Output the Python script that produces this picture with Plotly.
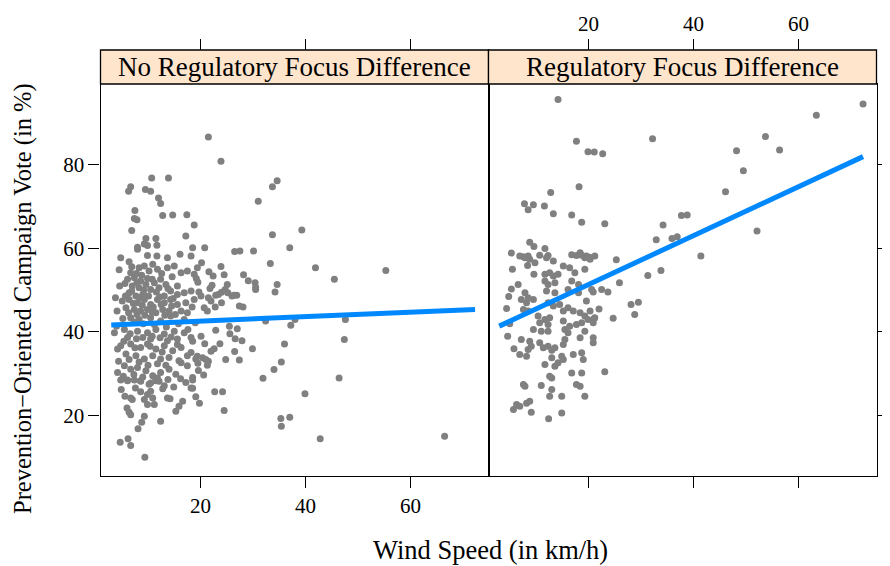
import plotly.graph_objects as go

# ---------------- data ----------------
panel_titles = ["No Regulatory Focus Difference", "Regulatory Focus Difference"]
x_ticks = [20, 40, 60]
y_ticks = [20, 40, 60, 80]

left_wind = [
    10.7, 13.9, 6.7, 6.3, 9.5, 10.5, 12.0, 12.4, 7.5, 7.4, 7.9, 12.8, 14.7, 17.4, 18.8, 6.9, 17.2, 9.6, 11.5, 9.3,
    9.9, 11.7, 8.0, 18.5, 4.8, 9.9, 11.7, 13.7, 16.1,
    21.5, 23.9, 34.6, 33.7, 31.0, 33.7, 20.8, 26.5, 27.5, 30.1, 37.0, 23.9, 19.4, 33.3, 24.5, 28.2, 29.1, 30.4, 30.5,
    34.6, 34.2, 19.5, 22.2, 21.8, 25.1, 24.7, 26.4, 26.9, 22.9, 24.0, 19.7,
    20.1, 20.7, 21.3, 22.0, 22.8, 24.0, 27.4, 28.1, 25.5, 27.0, 32.4, 22.9, 20.1, 25.6, 26.6, 27.9, 23.7, 22.6, 22.0,
    20.8, 18.5, 26.5, 29.9, 36.0, 19.4, 20.4, 21.0, 21.5, 21.3, 19.5, 24.8, 27.4, 35.4, 34.0, 31.9, 20.6, 18.5, 18.5,
    22.7, 24.2, 19.1, 19.8, 24.5, 21.5, 23.4, 25.2, 26.0, 30.5,
    39.3, 41.9, 45.5, 55.3, 47.6, 47.4, 37.2, 38.0, 46.4, 39.9, 35.3, 37.0, 35.4, 42.8, 66.5,
    8.6, 7.0, 9.9, 11.2, 10.9, 13.7, 14.2, 16.6, 15.9, 15.3, 18.2, 6.0, 6.4, 6.7, 12.4, 9.3, 8.8, 8.1, 4.7, 6.2, 6.7, 9.4,
    4.8, 6.1, 7.4, 8.6, 10.5, 11.5, 12.1, 6.7, 9.9, 10.5, 9.3,
    8.0, 18.2, 6.4,
    4.5, 6.7, 8.3, 9.3, 10.9, 11.8, 13.7, 15.0, 16.3, 17.5, 18.8,
    6.1, 7.4, 8.6, 9.9, 11.2, 12.4, 7.0, 8.3, 9.6, 10.5, 12.1, 13.4, 14.3, 15.6, 16.9, 18.2, 6.4, 7.7, 9.0, 13.1, 15.6,
    5.1, 6.4, 8.0, 9.3, 10.5, 11.8, 13.1, 14.3, 15.6, 17.2, 18.8, 5.8, 7.4, 8.6, 9.9, 11.5, 12.8, 14.0, 16.3, 17.5, 4.1,
    6.7, 8.3, 10.5, 12.4, 14.3, 16.9, 3.6,
    5.5, 8.0, 9.9, 11.5, 13.1, 15.0, 16.9, 6.1, 9.0, 10.5, 13.7, 15.6, 18.2, 4.2,
    4.8, 6.7, 8.6, 9.9, 11.5, 13.1, 14.7, 16.3, 18.2, 5.8, 7.7, 9.3, 10.9, 12.4, 14.0, 15.9, 17.5, 19.1,
    4.2, 5.5, 6.7, 8.0, 9.6, 10.9, 12.4, 14.0, 15.3, 17.5, 6.1, 8.6, 10.2, 11.5, 13.1, 17.2, 18.5,
    6.9, 7.8, 8.8, 10.2, 12.6, 14.6, 5.6, 7.9, 9.2, 10.8, 11.6, 13.8, 6.9, 8.4, 10.1, 12.2, 14.8, 5.7, 7.2, 8.9,
    11.0, 12.5, 14.5, 6.3, 7.9, 9.4, 10.8, 13.2, 15.2, 5.2, 7.4, 9.1, 11.2, 13.5, 15.8, 6.6, 7.8, 10.8, 12.3, 14.4,
    17.6, 5.4, 7.5, 10.4, 12.7, 15.6, 6.4, 8.3, 10.0, 11.8, 13.4, 16.3, 5.3, 7.3, 9.0, 11.8, 13.8, 16.2, 7.6, 12.8,
    14.9, 19.6, 19.0, 18.4, 19.2, 20.2, 21.6, 22.4, 4.6, 3.8, 4.0, 4.4, 4.9, 5.6,
]
left_vote = [
    76.9, 76.9, 74.8, 73.7, 74.1, 73.7, 72.1, 70.8, 69.1, 67.2, 66.9, 67.9, 68.0, 68.1, 65.6, 64.3, 63.0, 62.4, 62.4, 61.1,
    60.7, 60.8, 60.3, 60.2, 57.8, 58.3, 58.2, 57.8, 58.6,
    86.7, 80.9, 76.2, 74.8, 71.3, 63.3, 60.2, 59.3, 59.4, 59.4, 60.2, 55.7, 55.4, 56.4, 53.7, 53.7, 52.3, 51.8, 50.7,
    51.4, 49.6, 51.9, 51.2, 50.4, 51.4, 50.2, 48.8, 48.8, 48.8, 49.5, 49.6,
    48.6, 45.8, 45.0, 47.4, 46.0, 47.0, 46.2, 46.0, 41.4, 40.8, 42.6, 40.4, 39.0, 39.6, 38.4, 37.9, 37.2, 36.0, 35.4,
    37.2, 37.8, 35.3, 36.0, 37.1, 34.2, 33.8, 33.4, 33.0, 32.0, 32.5, 33.4, 33.3, 32.8, 31.0, 28.9, 29.7, 28.5, 26.5,
    25.7, 25.7, 24.5, 22.9, 21.2, 48.2, 49.0, 49.4, 48.6, 50.2,
    64.4, 55.4, 52.6, 54.7, 43.0, 38.2, 41.6, 43.0, 29.0, 25.2, 19.3, 19.6, 17.4, 14.4, 15.0,
    25.7, 23.8, 22.6, 22.6, 24.2, 24.2, 24.0, 23.4, 22.2, 21.0, 26.6, 21.8, 20.8, 20.2, 18.6, 19.8, 18.4, 16.8, 13.6, 14.4, 12.8, 10.0,
    28.5, 28.5, 28.5, 28.2, 27.8, 28.5, 28.2, 24.2, 25.0, 25.8, 23.8,
    59.8, 58.2, 56.8,
    54.9, 54.2, 55.4, 55.8, 56.2, 55.0, 55.4, 55.8, 54.2, 54.6, 53.8,
    52.6, 53.0, 52.2, 52.8, 51.8, 52.6, 51.0, 50.6, 51.4, 50.2, 50.6, 51.4, 49.8, 51.0, 49.4, 49.8, 49.4, 48.6, 49.0, 48.6, 49.0,
    47.4, 47.8, 47.0, 47.8, 46.6, 47.8, 47.0, 47.8, 46.6, 47.0, 47.8, 45.8, 45.4, 45.0, 45.4, 44.6, 45.4, 45.0, 45.0, 44.6, 45.0,
    43.4, 43.0, 43.4, 42.6, 43.8, 43.0, 39.8,
    40.6, 40.2, 39.8, 40.6, 39.5, 40.2, 39.8, 38.7, 38.7, 38.3, 37.9, 38.3, 38.7, 35.9,
    36.7, 37.1, 36.3, 37.1, 35.9, 36.7, 35.5, 36.3, 35.1, 34.7, 34.3, 33.5, 34.3, 33.5, 33.9, 33.1, 34.3, 33.5,
    30.3, 31.9, 31.1, 31.5, 30.7, 29.5, 30.3, 31.1, 29.9, 31.9, 28.3, 28.3, 27.5, 28.3, 27.1, 27.9, 29.1,
    55.6, 54.0, 53.6, 54.6, 54.0, 53.2, 51.6, 51.8, 50.0, 52.6, 49.6, 50.4, 49.8, 48.2, 48.6, 48.4, 48.0, 48.6, 46.8, 46.4,
    46.0, 46.6, 46.2, 44.6, 44.2, 44.0, 44.8, 44.0, 44.2, 43.2, 42.4, 42.0, 41.8, 41.2, 42.0, 39.6, 38.4, 39.0, 38.6, 38.8,
    40.6, 37.8, 36.2, 36.6, 35.2, 37.0, 33.4, 32.8, 32.0, 32.4, 32.0, 32.6, 29.4, 29.8, 29.2, 29.0, 28.6, 28.8, 26.6, 26.4,
    26.8, 30.8, 42.2, 46.0, 52.8, 56.6, 54.4, 53.4, 51.0, 48.2, 41.4, 33.0, 26.2, 24.6,
]

right_wind = [
    14.2, 17.7, 19.9, 21.1, 22.7, 32.2, 12.8, 18.2, 7.8, 8.5, 9.5, 11.6, 13.3, 16.8, 18.7, 8.8, 9.6, 11.7, 5.3, 6.9,
    7.6, 8.5, 10.7, 12.3, 16.8, 17.7, 18.7, 19.6, 20.2,
    23.1, 37.7, 38.8, 34.2, 32.9, 35.9, 36.9, 41.4, 25.3, 33.8, 31.3, 25.9, 20.9, 22.5, 23.7, 28.1, 29.5, 28.8, 22.0,
    21.1, 24.7, 20.9, 20.9, 23.1,
    72.3, 63.4, 53.7, 48.2, 56.4, 49.5, 46.1, 52.1,
    7.9, 8.8, 9.8, 5.5, 8.4, 9.6, 12.0, 13.3, 18.4, 19.3, 20.3, 21.2,
    15.2, 16.4, 17.4, 19.3, 11.7, 12.6, 13.3, 14.2, 11.7, 12.3, 13.6, 16.8, 18.1, 16.1, 18.1, 20.6, 5.3, 6.6, 7.9, 8.5,
    7.2, 8.2, 9.5, 12.0, 13.6, 12.3, 13.3, 14.5, 15.2, 19.6, 16.1, 17.1, 18.4, 19.3, 20.3, 21.2, 7.6, 8.5, 10.4, 11.7,
    12.6, 10.7, 12.3, 15.2, 16.4, 17.7, 18.7, 19.9, 20.9, 9.5, 11.0, 12.3, 15.5, 16.1, 18.4, 19.3, 7.2, 8.8, 9.1, 10.7,
    11.4, 12.3, 13.6, 13.0, 15.5, 15.2, 6.9, 8.2, 8.5, 13.0, 14.9, 15.2, 14.2, 13.6, 17.1, 18.7, 19.0, 11.7, 12.6, 13.0,
    16.8, 18.7, 7.9, 7.6, 11.0, 13.0, 12.6, 14.9, 17.7, 18.4, 19.3, 8.8, 8.2, 6.9, 5.7, 9.1, 14.9, 12.4,
    4.8, 4.4, 5.0, 4.6, 5.8, 6.3,
]
right_vote = [
    95.7, 85.7, 83.2, 83.1, 82.7, 86.3, 73.4, 74.8, 70.7, 69.3, 70.5, 70.2, 68.3, 68.0, 66.3, 61.5, 60.5, 60.0, 58.9, 58.2,
    58.0, 58.2, 58.4, 58.3, 58.5, 58.3, 58.4, 58.2, 57.9,
    65.9, 67.9, 68.0, 65.6, 62.1, 62.4, 62.8, 58.2, 57.3, 54.7, 53.5, 51.8, 49.6, 50.2, 49.6, 46.6, 47.1, 44.2, 45.5,
    43.3, 43.3, 38.6, 37.4, 30.5,
    94.6, 91.9, 86.8, 83.4, 83.6, 78.6, 73.6, 64.2,
    57.8, 57.4, 56.6, 55.0, 55.9, 53.8, 57.8, 57.0, 59.0, 57.8, 57.4, 58.2,
    55.8, 55.4, 54.2, 55.0, 53.8, 54.2, 53.4, 53.8, 52.2, 51.4, 51.8, 52.2, 51.4, 50.2, 49.4, 50.2, 50.3, 51.4, 49.4, 48.2,
    47.8, 47.0, 47.8, 49.8, 49.4, 47.0, 46.2, 46.6, 45.0, 47.4, 45.8, 45.0, 44.6, 43.8, 45.0, 43.4, 45.4, 45.0, 43.8, 43.0,
    43.4, 42.2, 41.8, 42.6, 41.4, 41.8, 42.2, 43.0, 42.2, 40.6, 40.2, 40.2, 40.6, 39.8, 38.6, 40.2, 38.2, 37.8, 36.6, 37.4,
    36.2, 36.6, 36.2, 35.6, 38.2, 37.0, 34.6, 34.2, 35.8, 33.8, 34.2, 33.4, 32.6, 31.8, 34.6, 35.0, 33.4, 32.2, 29.4, 29.0,
    30.2, 30.2, 27.0, 27.4, 27.2, 26.2, 24.6, 24.6, 27.4, 27.0, 24.6, 23.4, 22.9, 22.2, 21.4, 20.8, 20.6, 19.2,
    48.5, 45.6, 42.0, 39.0, 36.0, 22.6,
]

# fitted regression lines (end points)
fit_wind = [3.0, 72.3]
left_fit_vote = [41.7, 45.4]
right_fit_vote = [41.4, 82.0]

x_title = "Wind Speed (in km/h)"
y_title = "Prevention\u2212Oriented Campaign Vote (in %)"

# ---------------- layout constants ----------------
W, H = 890, 566
OFF = 8  # page body margin in the browser
FONT = "Liberation Serif, Times New Roman, serif"
px_x = lambda p: (p - OFF) / W
px_y = lambda p: 1 - (p - OFF) / H
L0, L1, R1 = px_x(100.5), px_x(488.5), px_x(876.5)
B, T = px_y(476), px_y(84)
STRIP_TOP = px_y(50)
xr = [0.95, 74.86]
yr = [5.5, 99.4]
PT_COL = "#808080"
LINE_COL = "#0088FF"

fig = go.Figure()
fig.add_trace(go.Scatter(x=left_wind, y=left_vote, mode="markers", xaxis="x", yaxis="y",
                         marker=dict(color=PT_COL, size=7, line=dict(width=0)), showlegend=False))
fig.add_trace(go.Scatter(x=fit_wind, y=left_fit_vote, mode="lines", xaxis="x", yaxis="y",
                         line=dict(color=LINE_COL, width=5), showlegend=False))
fig.add_trace(go.Scatter(x=right_wind, y=right_vote, mode="markers", xaxis="x2", yaxis="y2",
                         marker=dict(color=PT_COL, size=7, line=dict(width=0)), showlegend=False))
fig.add_trace(go.Scatter(x=fit_wind, y=right_fit_vote, mode="lines", xaxis="x2", yaxis="y2",
                         line=dict(color=LINE_COL, width=5), showlegend=False))
# empty traces so the top tick axes are drawn
fig.add_trace(go.Scatter(x=[None], y=[None], xaxis="x3", yaxis="y", showlegend=False, hoverinfo="skip"))
fig.add_trace(go.Scatter(x=[None], y=[None], xaxis="x4", yaxis="y2", showlegend=False, hoverinfo="skip"))

tickfont = dict(family=FONT, size=21, color="black")
common_x = dict(range=xr, tickvals=x_ticks, ticks="outside", ticklen=11, tickwidth=1.3, tickcolor="black",
                showgrid=False, zeroline=False, tickfont=tickfont, fixedrange=True, automargin=False)
common_y = dict(range=yr, domain=[B, T], tickvals=y_ticks, ticks="outside", ticklen=11, tickwidth=1.3,
                tickcolor="black", showgrid=False, zeroline=False, tickfont=tickfont, fixedrange=True,
                showline=True, linecolor="black", linewidth=1.3, mirror=True, automargin=False)

fig.update_layout(
    width=W, height=H, margin=dict(l=0, r=0, t=0, b=0, autoexpand=False),
    paper_bgcolor="white", plot_bgcolor="white", showlegend=False,
    font=dict(family=FONT, color="black"),
    xaxis=dict(domain=[L0, L1], anchor="y", showline=True, linecolor="black", linewidth=1.3, mirror=True, **common_x),
    yaxis=dict(anchor="x", side="left", **common_y),
    xaxis2=dict(domain=[L1, R1], anchor="y2", showline=True, linecolor="black", linewidth=1.3, mirror=True,
                showticklabels=False, **common_x),
    yaxis2=dict(anchor="x2", side="right", showticklabels=False, **common_y),
    xaxis3=dict(overlaying="x", anchor="free", position=STRIP_TOP, side="top", showline=False,
                showticklabels=False, **common_x),
    xaxis4=dict(overlaying="x2", anchor="free", position=STRIP_TOP, side="top", showline=False,
                showticklabels=True, **common_x),
)

# strips
for (x0, x1), label in zip([(L0, L1), (L1, R1)], panel_titles):
    fig.add_shape(type="rect", xref="paper", yref="paper", x0=x0, x1=x1, y0=T, y1=STRIP_TOP,
                  fillcolor="#FFE5CC", line=dict(color="black", width=1.3), layer="above")
    fig.add_annotation(x=(x0 + x1) / 2, y=(T + STRIP_TOP) / 2, xref="paper", yref="paper", text=label,
                       showarrow=False, font=dict(family=FONT, size=27, color="black"),
                       xanchor="center", yanchor="middle")

fig.add_annotation(x=px_x(490), y=px_y(550), xref="paper", yref="paper", text=x_title, showarrow=False,
                   font=dict(family=FONT, size=26.5, color="black"), xanchor="center", yanchor="middle")
fig.add_annotation(x=px_x(23), y=px_y(299), xref="paper", yref="paper", text=y_title, showarrow=False,
                   textangle=-90, font=dict(family=FONT, size=24.5, color="black"), borderpad=0,
                   xanchor="center", yanchor="middle")

fig.write_html("out.html")
